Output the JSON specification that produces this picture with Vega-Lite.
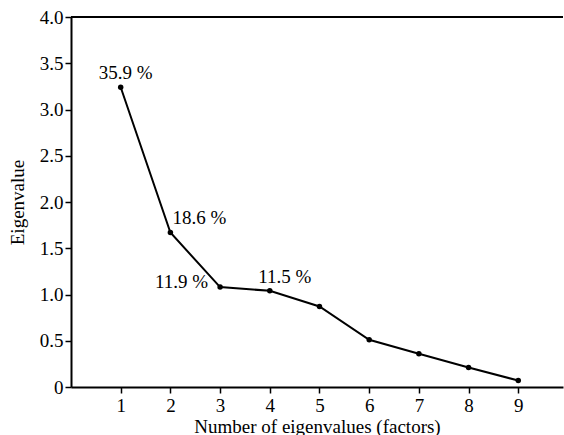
{
  "$schema": "https://vega.github.io/schema/vega-lite/v6.json",
  "width": 492,
  "height": 370,
  "autosize": "none",
  "padding": {"left": 71, "top": 17, "right": 1, "bottom": 48},
  "background": "white",
  "config": {
    "view": {"stroke": null},
    "font": "Liberation Serif",
    "axis": {
      "labelFont": "Liberation Serif",
      "titleFont": "Liberation Serif",
      "labelFontSize": 19,
      "titleFontSize": 19,
      "titleFontWeight": "normal",
      "labelColor": "black",
      "titleColor": "black",
      "domainColor": "black",
      "tickColor": "black",
      "domainWidth": 2,
      "tickWidth": 1.5,
      "tickSize": 6,
      "grid": false
    }
  },
  "data": {
    "values": [
      {"n": 1, "ev": 3.24, "label": "35.9 %"},
      {"n": 2, "ev": 1.67, "label": "18.6 %"},
      {"n": 3, "ev": 1.08, "label": "11.9 %"},
      {"n": 4, "ev": 1.04, "label": "11.5 %"},
      {"n": 5, "ev": 0.87, "label": ""},
      {"n": 6, "ev": 0.51, "label": ""},
      {"n": 7, "ev": 0.36, "label": ""},
      {"n": 8, "ev": 0.21, "label": ""},
      {"n": 9, "ev": 0.07, "label": ""}
    ]
  },
  "encoding": {
    "x": {
      "field": "n", "type": "quantitative",
      "scale": {"domain": [0, 9.9], "nice": false, "zero": true},
      "axis": {"values": [1, 2, 3, 4, 5, 6, 7, 8, 9], "title": "Number of eigenvalues (factors)", "labelPadding": 3, "titlePadding": 2},
      "title": "Number of eigenvalues (factors)"
    },
    "y": {
      "field": "ev", "type": "quantitative",
      "scale": {"domain": [0, 4], "nice": false},
      "axis": {"values": [0, 0.5, 1, 1.5, 2, 2.5, 3, 3.5, 4], "labelExpr": "datum.value == 0 ? '0' : format(datum.value, '.1f')", "title": "Eigenvalue", "labelPadding": 2, "titlePadding": 12},
      "title": "Eigenvalue"
    }
  },
  "layer": [
    {
      "mark": {"type": "rule", "color": "black", "strokeWidth": 2},
      "encoding": {"y": {"datum": 4}, "x": null}
    },
    {
      "mark": {"type": "line", "color": "black", "strokeWidth": 2},
      "encoding": {}
    },
    {
      "mark": {"type": "point", "filled": true, "color": "black", "size": 30, "opacity": 1},
      "encoding": {}
    },
    {
      "transform": [{"filter": "datum.n == 1"}],
      "mark": {"type": "text", "font": "Liberation Serif", "align": "center", "baseline": "alphabetic", "dx": 5, "dy": -8, "fontSize": 19, "color": "black"},
      "encoding": {"text": {"field": "label"}}
    },
    {
      "transform": [{"filter": "datum.n == 2"}],
      "mark": {"type": "text", "font": "Liberation Serif", "align": "left", "baseline": "alphabetic", "dx": 2, "dy": -9, "fontSize": 19, "color": "black"},
      "encoding": {"text": {"field": "label"}}
    },
    {
      "transform": [{"filter": "datum.n == 3"}],
      "mark": {"type": "text", "font": "Liberation Serif", "align": "right", "baseline": "alphabetic", "dx": -12, "dy": 1, "fontSize": 19, "color": "black"},
      "encoding": {"text": {"field": "label"}}
    },
    {
      "transform": [{"filter": "datum.n == 4"}],
      "mark": {"type": "text", "font": "Liberation Serif", "align": "center", "baseline": "alphabetic", "dx": 15, "dy": -8, "fontSize": 19, "color": "black"},
      "encoding": {"text": {"field": "label"}}
    }
  ]
}
